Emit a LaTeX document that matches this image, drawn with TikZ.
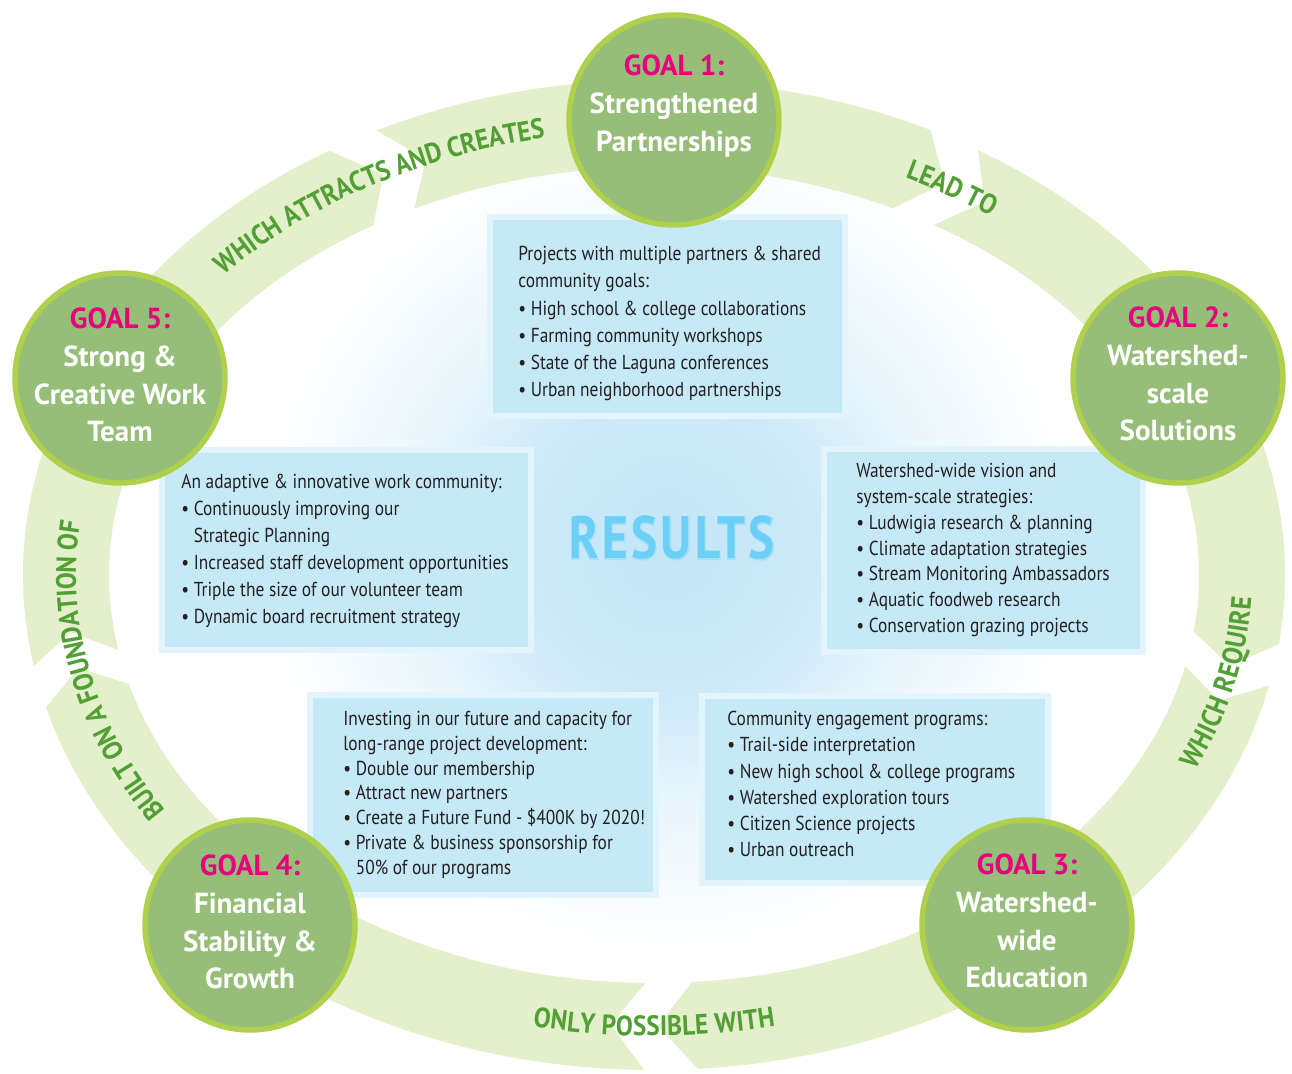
\documentclass[tikz,border=0pt]{standalone}
\usepackage{fontspec}
\setmainfont{PT Sans}
\newfontfamily\boxfont[FakeStretch=0.86]{PT Sans}
\newfontfamily\condfont[FakeStretch=0.9]{PT Sans}
\newfontfamily\resfont[FakeStretch=0.82,LetterSpace=6]{PT Sans}
\newfontfamily\resglowfont[FakeStretch=0.82,LetterSpace=6,FakeBold=3]{PT Sans}
\usetikzlibrary{decorations.text}

\definecolor{ringgreen}{HTML}{E4EFCB}
\definecolor{goalfill}{HTML}{96BE78}
\definecolor{goalring}{HTML}{AED04C}
\definecolor{goalpink}{HTML}{E6007E}
\definecolor{labelgreen}{HTML}{52A035}
\definecolor{boxfill}{HTML}{C6E9F8}
\definecolor{boxedge}{HTML}{E2F4FC}
\definecolor{glowc}{HTML}{C3E6F7}
\definecolor{resblue}{HTML}{6CCFF6}
\definecolor{resglow}{HTML}{A9E0F6}
\definecolor{ink}{HTML}{231F20}

\pgfdeclareradialshading{glow}{\pgfpoint{0bp}{0bp}}{color(0bp)=(glowc); color(6bp)=(glowc!85!white); color(11bp)=(glowc!35!white); color(17bp)=(white); color(50bp)=(white)}

\newcommand{\itm}{\textbullet\ }
\newcommand{\cnt}{\phantom{\textbullet\ }}
\newcommand{\goalno}[1]{{\color{goalpink}GOAL #1:}}
\newcommand{\lblfont}{\condfont\bfseries\fontsize{16pt}{16pt}\selectfont}

\begin{document}
\begin{tikzpicture}[x=0.02cm, y=-0.02cm,
    goal/.style={circle, fill=goalfill, draw=goalring, line width=0.11cm, minimum size=4.2cm, inner sep=0pt},
    goaltext/.style={align=center, text=white, font=\bfseries\fontsize{16.5pt}{21.5pt}\selectfont},
    resbox/.style={fill=boxfill, draw=boxedge, line width=0.12cm},
    boxtext/.style={align=left, anchor=north west, inner sep=0pt, text=ink, font=\boxfont\fontsize{11.5pt}{#1}\selectfont},
    arrowlabel/.style={decorate, decoration={text along path, text align=center, text color=labelgreen, raise=-0.2cm, text={|\lblfont|#1}}}]
    \useasboundingbox (0,0) rectangle (1292,1074);
    \fill[white] (0,0) rectangle (1292,1074);
    % Glow behind the results
    \shade[shading=glow] (668,545) circle (600);
    % Ring of arrows
    \begin{scope}[shift={(654,575)}]
        \foreach \a/\b in {-121/-64, -64/8, 8/86, 86/164.5, 164.5/239} {
            \fill[ringgreen] ({\a+4.9}:631 and 495) arc[start angle={\a+4.9}, end angle=\b, x radius=631, y radius=495]
                -- ({\b+3.6}:588 and 451) -- (\b:545 and 408)
                arc[start angle=\b, end angle={\a+4.9}, x radius=545, y radius=408]
                -- ({\a+8.2}:588 and 451) -- cycle;
        }
        % Arrow labels
        \path[arrowlabel={WHICH ATTRACTS AND CREATES}] (-150:592 and 455) arc[start angle=-150, end angle=-90, x radius=592, y radius=455];
        \path[arrowlabel={LEAD TO}] (-75:588 and 451) arc[start angle=-75, end angle=-43, x radius=588, y radius=451];
        \path[arrowlabel={WHICH REQUIRE}] (35:588 and 451) arc[start angle=35, end angle=-8, x radius=588, y radius=451];
        \path[arrowlabel={ONLY POSSIBLE WITH}] (125:588 and 451) arc[start angle=125, end angle=55, x radius=588, y radius=451];
        \path[arrowlabel={BUILT ON A FOUNDATION OF}] (133:588 and 451) arc[start angle=133, end angle=203, x radius=588, y radius=451];
    \end{scope}
    % Result boxes
    \draw[resbox] (490,217) rectangle (845,416);
    \draw[resbox] (824,449) rectangle (1143,652);
    \draw[resbox] (162,450) rectangle (531,650);
    \draw[resbox] (310,695) rectangle (656,895);
    \draw[resbox] (702,696) rectangle (1048,883);
    \node[boxtext=15.5pt] (p1) at (518,246) {Projects with multiple partners \& shared\\community goals:\\\itm High school \& college collaborations\\\itm Farming community workshops\\\itm State of the Laguna conferences\\\itm Urban neighborhood partnerships};
    \node[boxtext=14.7pt] (p2) at (856,463) {Watershed-wide vision and\\system-scale strategies:\\\itm Ludwigia research \& planning\\\itm Climate adaptation strategies\\\itm Stream Monitoring Ambassadors\\\itm Aquatic foodweb research\\\itm Conservation grazing projects};
    \node[boxtext=14.9pt] (p3) at (727,711) {Community engagement programs:\\\itm Trail-side interpretation\\\itm New high school \& college programs\\\itm Watershed exploration tours\\\itm Citizen Science projects\\\itm Urban outreach};
    \node[boxtext=14.1pt] (p4) at (343,711) {Investing in our future and capacity for\\long-range project development:\\\itm Double our membership\\\itm Attract new partners\\\itm Create a Future Fund - \$400K by 2020!\\\itm Private \& business sponsorship for\\\cnt 50\% of our programs};
    \node[boxtext=15.3pt] (p5) at (181,474) {An adaptive \& innovative work community:\\\itm Continuously improving our\\\cnt Strategic Planning\\\itm Increased staff development opportunities\\\itm Triple the size of our volunteer team\\\itm Dynamic board recruitment strategy};
    % Results
    \node[text=resglow, font=\resglowfont\bfseries\fontsize{34pt}{34pt}\selectfont] (resh) at (672,538) {RESULTS};
    \node[text=resblue, font=\resfont\bfseries\fontsize{34pt}{34pt}\selectfont] (res) at (672,538) {RESULTS};
    % Goals
    \node[goal] (g1) at (674,120) {};
    \node[goal] (g2) at (1178,378) {};
    \node[goal] (g3) at (1027,925) {};
    \node[goal] (g4) at (250,925) {};
    \node[goal] (g5) at (120,378) {};
    \node[goaltext] (t1) at ([yshift=0.28cm]g1.center) {\goalno{1}\\Strengthened\\Partnerships};
    \node[goaltext] (t2) at ([yshift=0.08cm]g2.center) {\goalno{2}\\Watershed-\\scale\\Solutions};
    \node[goaltext] (t3) at ([yshift=0.08cm]g3.center) {\goalno{3}\\Watershed-\\wide\\Education};
    \node[goaltext] (t4) at ([yshift=0.06cm]g4.center) {\goalno{4}\\Financial\\Stability \&\\Growth};
    \node[goaltext] (t5) at ([yshift=0.06cm]g5.center) {\goalno{5}\\Strong \&\\Creative Work\\Team};
\end{tikzpicture}
\end{document}
